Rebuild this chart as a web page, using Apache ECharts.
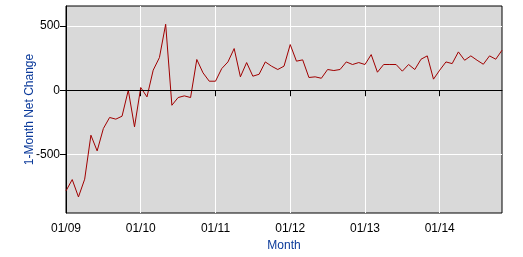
<!DOCTYPE html>
<html>
<head>
<meta charset="utf-8">
<script src="https://cdn.jsdelivr.net/npm/echarts@6/dist/echarts.min.js"></script>
<style>html,body{margin:0;padding:0;background:#fff}#c{width:523px;height:257px}</style>
</head>
<body>
<div id="c"></div>
<script>
const months = [
 '01/09','02/09','03/09','04/09','05/09','06/09','07/09','08/09','09/09','10/09','11/09','12/09',
 '01/10','02/10','03/10','04/10','05/10','06/10','07/10','08/10','09/10','10/10','11/10','12/10',
 '01/11','02/11','03/11','04/11','05/11','06/11','07/11','08/11','09/11','10/11','11/11','12/11',
 '01/12','02/12','03/12','04/12','05/12','06/12','07/12','08/12','09/12','10/12','11/12','12/12',
 '01/13','02/13','03/13','04/13','05/13','06/13','07/13','08/13','09/13','10/13','11/13','12/13',
 '01/14','02/14','03/14','04/14','05/14','06/14','07/14','08/14','09/14','10/14','11/14'
];
const netChange = [
 -783,-695,-830,-692,-350,-472,-298,-212,-225,-202,0,-285,
 21,-52,156,254,513,-117,-57,-44,-57,239,135,70,
 70,168,220,324,104,215,109,124,220,187,161,187,
 355,226,236,99,104,93,161,153,161,220,200,215,
 200,277,140,200,200,200,148,200,161,241,267,86,
 156,220,207,298,233,267,233,202,267,241,311
];
const yTicks = [-500, 0, 500];
const yMin = -955, yMax = 655;

const blue = '#0b3a9a';
const font = 'Liberation Sans, Arial, sans-serif';
const chart = echarts.init(document.getElementById('c'), null, {renderer: 'canvas'});
chart.setOption({
  animation: false,
  grid: {left: 66, right: 21, top: 6, bottom: 44, show: true, backgroundColor: '#d9d9d9', borderColor: '#000', borderWidth: 1},
  xAxis: {
    type: 'category', data: months, boundaryGap: false,
    name: 'Month', nameLocation: 'middle', nameGap: 27,
    nameTextStyle: {color: blue, fontFamily: font, fontSize: 12},
    axisLine: {lineStyle: {color: '#000', width: 1}},
    axisTick: {show: true, interval: 11, length: 6, lineStyle: {color: '#000'}},
    axisLabel: {interval: 11, color: '#000', fontFamily: font, fontSize: 12, margin: 10},
    splitLine: {show: true, interval: 11, lineStyle: {color: '#fff', width: 1}}
  },
  yAxis: {
    type: 'value', min: yMin, max: yMax,
    name: '1-Month Net Change', nameLocation: 'middle', nameGap: 30, nameMoveOverlap: false,
    nameTextStyle: {color: blue, fontFamily: font, fontSize: 12},
    axisLine: {show: true, lineStyle: {color: '#000', width: 1}},
    axisTick: {show: true, length: 6, customValues: yTicks, lineStyle: {color: '#000'}},
    axisLabel: {customValues: yTicks, color: '#000', fontFamily: font, fontSize: 12, margin: 6},
    splitLine: {show: true, lineStyle: {color: '#fff', width: 1}}
  },
  series: [{
    type: 'line', data: netChange, symbol: 'none',
    lineStyle: {color: '#a00000', width: 1},
    markLine: {
      silent: true, symbol: 'none', label: {show: false},
      lineStyle: {color: '#000', type: 'solid', width: 1},
      data: [{yAxis: 0}]
    },
    z: 3
  }]
});
</script>
</body>
</html>
